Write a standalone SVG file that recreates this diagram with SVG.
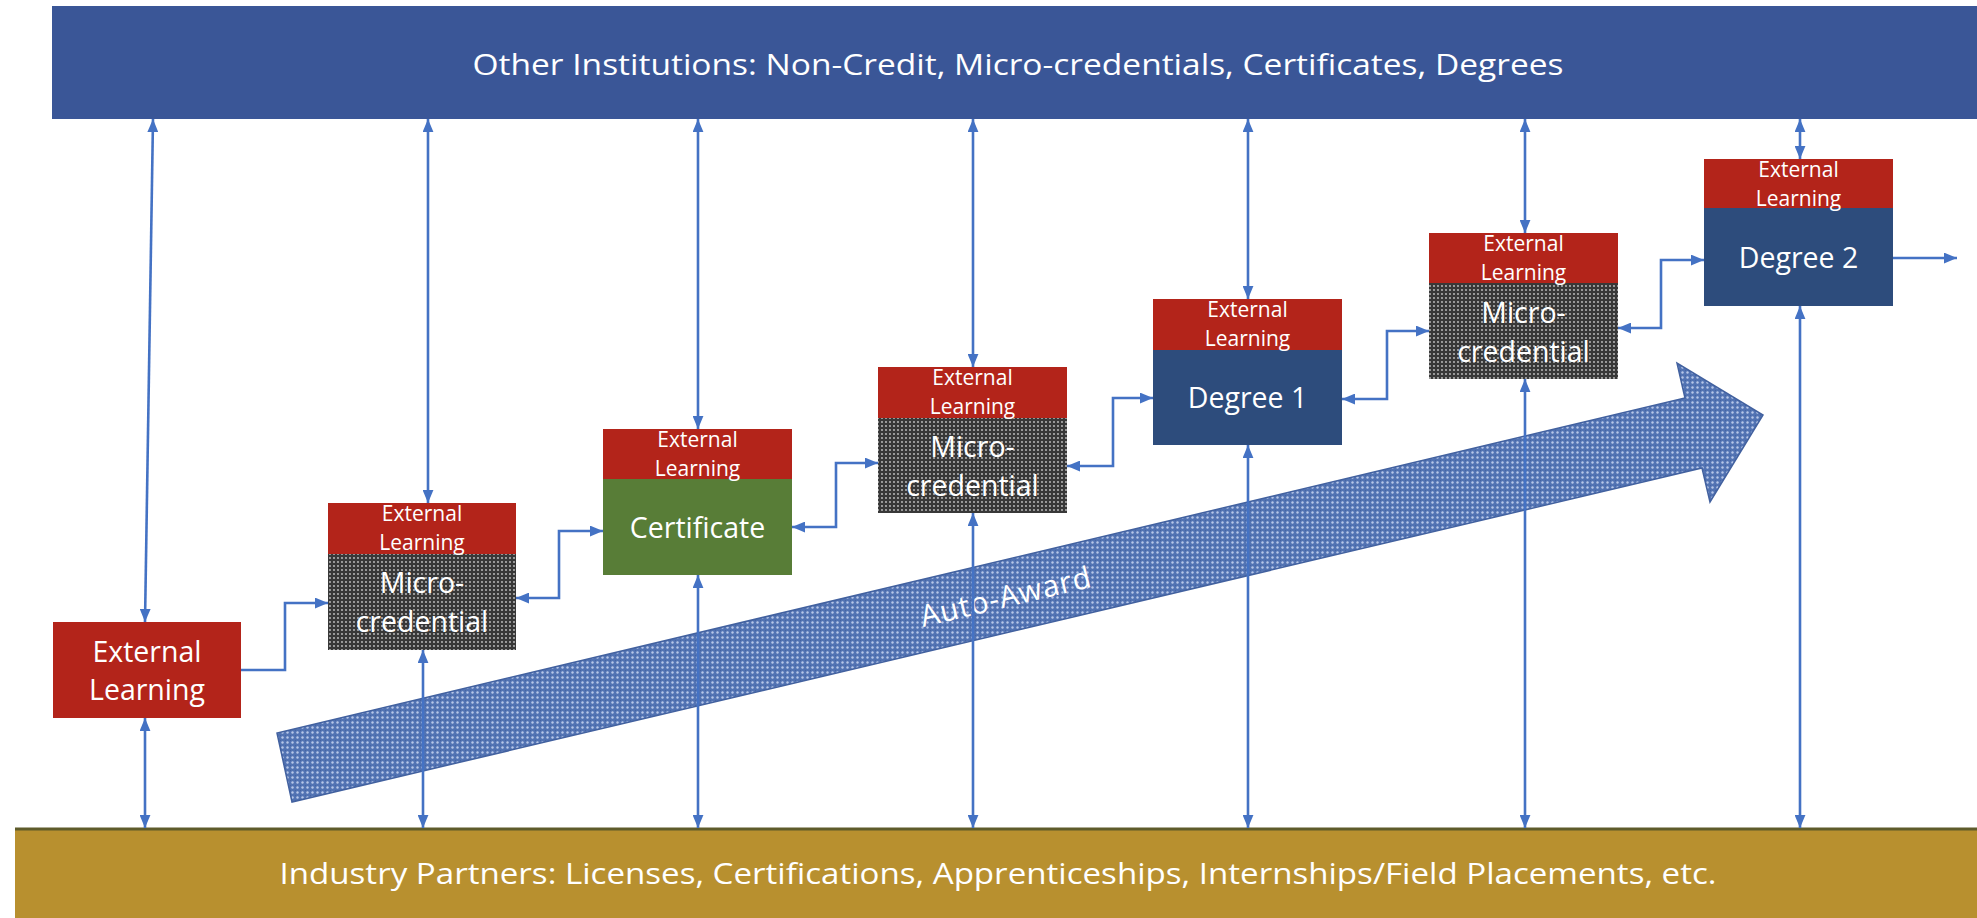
<svg xmlns="http://www.w3.org/2000/svg" width="1977" height="918" viewBox="0 0 1977 918">
<style>
  .lbl{font-family:"Open Sans","Noto Sans","Liberation Sans",sans-serif;fill:#ffffff;text-anchor:middle}
  .big{font-size:28.5px}
  .small{font-size:21px}
  .bar{font-size:29px}
  .red{fill:#B3241A}
  .gray{fill:url(#dots)}
  .green{fill:#587D37}
  .navy{fill:#2D4C7C}
  .conn{fill:none;stroke:#4472C4;stroke-width:2.6}
  .one{marker-end:url(#ah)}
  .two{marker-start:url(#ah);marker-end:url(#ah)}
</style>
<defs>
  <marker id="ah" viewBox="0 0 12 10" refX="12" refY="5" markerWidth="13" markerHeight="11" markerUnits="userSpaceOnUse" orient="auto-start-reverse">
    <path d="M0,0 L12,5 L0,10 Z" fill="#4472C4"/>
  </marker>
  <pattern id="dots" width="4" height="4" patternUnits="userSpaceOnUse">
    <rect width="4" height="4" fill="#383838"/>
    <circle cx="2" cy="2" r="0.9" fill="#c8c8c8"/>
  </pattern>
  <pattern id="blue" width="5" height="5" patternUnits="userSpaceOnUse">
    <rect width="5" height="5" fill="#5273B3"/>
    <circle cx="2.5" cy="2.5" r="1.2" fill="#B7C7E8"/>
    <circle cx="0" cy="0" r="0.7" fill="#2E4A86"/>
  </pattern>
</defs>
<rect width="1977" height="918" fill="#ffffff"/>

<g id="other-institutions">
  <rect x="52" y="6" width="1925" height="113" fill="#3A5697"/>
  <text class="lbl bar" x="1018" y="75" textLength="1091" lengthAdjust="spacingAndGlyphs">Other Institutions: Non-Credit, Micro-credentials, Certificates, Degrees</text>
</g>

<g id="industry-partners">
  <rect x="15" y="828" width="1962" height="90" fill="#B8902F"/>
  <line x1="15" y1="829" x2="1977" y2="829" stroke="#5E5B2B" stroke-width="3"/>
  <text class="lbl bar" x="998" y="884" textLength="1437" lengthAdjust="spacingAndGlyphs">Industry Partners: Licenses, Certifications, Apprenticeships, Internships/Field Placements, etc.</text>
</g>

<g id="auto-award">
  <polygon points="277,733 292,802 1702,468 1710,502 1763,415 1677,363 1685,398" fill="url(#blue)" stroke="#42619F" stroke-width="1.5"/>
  <text class="lbl" x="1006" y="607" font-size="30" letter-spacing="1" transform="rotate(-13.4 1006 597)">Auto-Award</text>
</g>

<g id="connectors">
  <path class="conn two" d="M153,119 L145,622"/>
  <path class="conn two" d="M145,718 V828"/>
  <path class="conn two" d="M428,119 V503"/>
  <path class="conn two" d="M423,650 V828"/>
  <path class="conn two" d="M698,119 V429"/>
  <path class="conn two" d="M698,575 V828"/>
  <path class="conn two" d="M973,119 V367"/>
  <path class="conn two" d="M973,513 V828"/>
  <path class="conn two" d="M1248,119 V299"/>
  <path class="conn two" d="M1248,445 V828"/>
  <path class="conn two" d="M1525,119 V233"/>
  <path class="conn two" d="M1525,379 V828"/>
  <path class="conn two" d="M1800,119 V159"/>
  <path class="conn two" d="M1800,306 V828"/>
  <path class="conn one" d="M241,670 H285 V603 H328"/>
  <path class="conn two" d="M516,598 H559 V531 H603"/>
  <path class="conn two" d="M792,527 H836 V463 H878"/>
  <path class="conn two" d="M1067,466 H1113 V398 H1153"/>
  <path class="conn two" d="M1342,399 H1387 V331 H1429"/>
  <path class="conn two" d="M1618,328 H1661 V260 H1704"/>
  <path class="conn one" d="M1893,258 H1957"/>
</g>

<g id="external-learning">
  <rect class="red" x="53" y="622" width="188" height="96"/>
  <text class="lbl big" x="147" y="662">External</text>
  <text class="lbl big" x="147" y="700">Learning</text>
</g>

<g id="micro-credential-1">
  <rect class="gray" x="328" y="554" width="188" height="96"/>
  <rect class="red" x="328" y="503" width="188" height="51"/>
  <text class="lbl small" x="422" y="521">External</text>
  <text class="lbl small" x="422" y="550">Learning</text>
  <text class="lbl big" x="422" y="593">Micro-</text>
  <text class="lbl big" x="422" y="632">credential</text>
</g>

<g id="certificate">
  <rect class="green" x="603" y="479" width="189" height="96"/>
  <rect class="red" x="603" y="429" width="189" height="50"/>
  <text class="lbl small" x="697.5" y="447">External</text>
  <text class="lbl small" x="697.5" y="476">Learning</text>
  <text class="lbl big" x="697.5" y="538">Certificate</text>
</g>

<g id="micro-credential-2">
  <rect class="gray" x="878" y="418" width="189" height="95"/>
  <rect class="red" x="878" y="367" width="189" height="51"/>
  <text class="lbl small" x="972.5" y="385">External</text>
  <text class="lbl small" x="972.5" y="414">Learning</text>
  <text class="lbl big" x="972.5" y="457">Micro-</text>
  <text class="lbl big" x="972.5" y="496">credential</text>
</g>

<g id="degree-1">
  <rect class="navy" x="1153" y="350" width="189" height="95"/>
  <rect class="red" x="1153" y="299" width="189" height="51"/>
  <text class="lbl small" x="1247.5" y="317">External</text>
  <text class="lbl small" x="1247.5" y="346">Learning</text>
  <text class="lbl big" x="1247.5" y="408">Degree 1</text>
</g>

<g id="micro-credential-3">
  <rect class="gray" x="1429" y="283" width="189" height="96"/>
  <rect class="red" x="1429" y="233" width="189" height="50"/>
  <text class="lbl small" x="1523.5" y="251">External</text>
  <text class="lbl small" x="1523.5" y="280">Learning</text>
  <text class="lbl big" x="1523.5" y="323">Micro-</text>
  <text class="lbl big" x="1523.5" y="362">credential</text>
</g>

<g id="degree-2">
  <rect class="navy" x="1704" y="208" width="189" height="98"/>
  <rect class="red" x="1704" y="159" width="189" height="49"/>
  <text class="lbl small" x="1798.5" y="177">External</text>
  <text class="lbl small" x="1798.5" y="206">Learning</text>
  <text class="lbl big" x="1798.5" y="268">Degree 2</text>
</g>
</svg>
